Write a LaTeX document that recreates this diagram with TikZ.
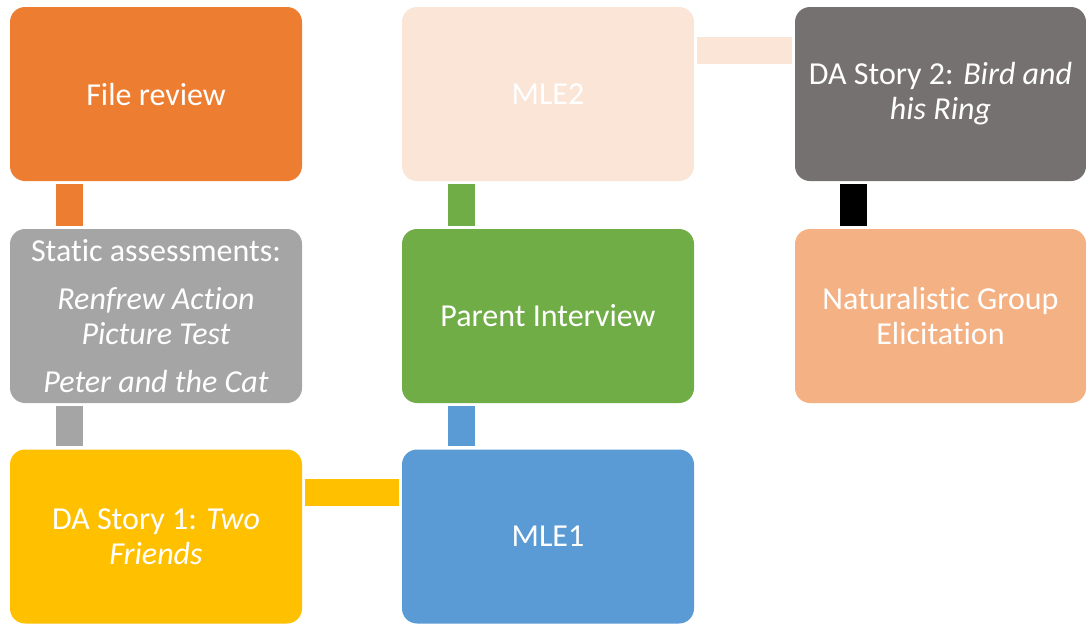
\documentclass[tikz,border=0pt]{standalone}
\usepackage{fontspec}
\setmainfont{Carlito}[Ligatures=CommonOff]
\usetikzlibrary{positioning, calc}
\definecolor{fileor}{HTML}{ED7D31}
\definecolor{statgr}{HTML}{A5A5A5}
\definecolor{storyy}{HTML}{FFC000}
\definecolor{mleb}{HTML}{5B9BD5}
\definecolor{parg}{HTML}{70AD47}
\definecolor{mlep}{HTML}{FBE5D6}
\definecolor{storyg}{HTML}{767171}
\definecolor{natur}{HTML}{F4B183}
\tikzset{
  stbox/.style  = {rounded corners=15pt, minimum width=292pt, minimum height=174pt,
                   inner sep=4pt, align=center, text=white,
                   font=\fontsize{32}{35}\selectfont},
  stlink/.style = {line width=27pt, shorten <=3pt, shorten >=3pt},
}
\begin{document}
\begin{tikzpicture}[x=1pt, y=1pt]
\useasboundingbox (0,0) rectangle (1086,-624);

\node[stbox, fill=fileor] (fr) at (156,-94) {File review};
\node[stbox, fill=statgr] (sa) at (156,-316)
  {Static assessments:\\[13pt]\textit{Renfrew Action}\\\textit{Picture Test}\\[13pt]\textit{Peter and the Cat}};
\node[stbox, fill=storyy] (ds1) at (156,-536.5) {DA Story 1: \textit{Two}\\\textit{Friends}};

\node[stbox, fill=mleb]  (mle1) at (548,-536.5) {MLE1};
\node[stbox, fill=parg]  (pi)   at (548,-316) {Parent Interview};
\node[stbox, fill=mlep]  (mle2) at (548,-94) {MLE2};

\node[stbox, fill=storyg, minimum width=291pt] (ds2) at (940.5,-94)
  {DA Story 2: \textit{Bird and}\\\textit{his Ring}};
\node[stbox, fill=natur, minimum width=291pt] (ng) at (940.5,-316)
  {Naturalistic Group\\Elicitation};

\draw[stlink, fileor] ([xshift=-87pt]fr.south) -- ([xshift=-87pt]sa.north);
\draw[stlink, statgr] ([xshift=-87pt]sa.south) -- ([xshift=-87pt]ds1.north);
\draw[stlink, storyy] ([yshift=44pt]ds1.east) -- ([yshift=44pt]mle1.west);
\draw[stlink, mleb]   ([xshift=-87pt]mle1.north) -- ([xshift=-87pt]pi.south);
\draw[stlink, parg]   ([xshift=-87pt]pi.north) -- ([xshift=-87pt]mle2.south);
\draw[stlink, mlep]   ([yshift=44pt]mle2.east) -- ([yshift=44pt]ds2.west);
\draw[stlink, black]  ([xshift=-87pt]ds2.south) -- ([xshift=-87pt]ng.north);
\end{tikzpicture}
\end{document}
